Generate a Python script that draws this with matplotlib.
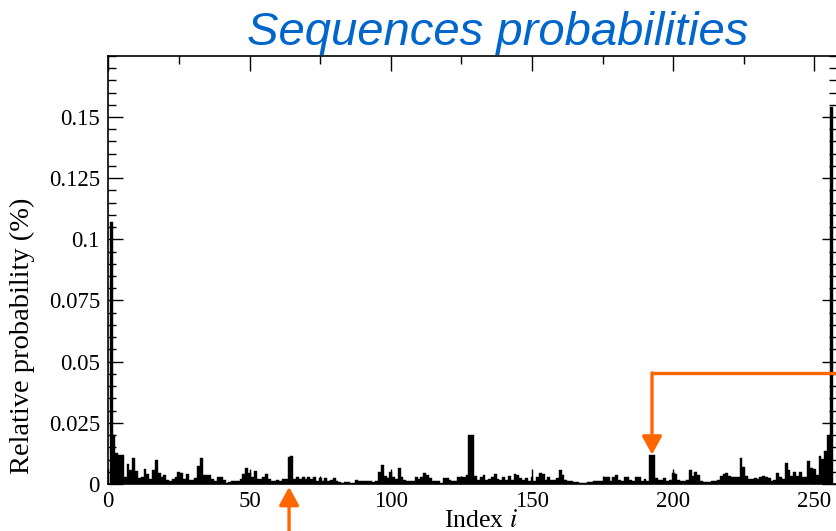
import numpy as np
import matplotlib
matplotlib.use("Agg")
import matplotlib.pyplot as plt
from matplotlib.ticker import MultipleLocator, FixedLocator

# Relative probability of each 8-bit sequence, in units of 1e-3 %
index = np.arange(1, 257)
prob_milli = [
    107, 20, 12.7, 11.7, 11.7, 3.0, 8.2, 5.9, 10.6, 5.2,
    2.5, 3.0, 6.1, 4.1, 2.2, 5.7, 9.8, 4.5, 3.0, 3.8,
    1.6, 1.4, 2.2, 3.0, 4.9, 4.5, 2.2, 4.1, 1.6, 1.6,
    2.5, 7.2, 10.6, 3.8, 3.8, 3.8, 2.2, 1.4, 2.7, 3.0,
    1.5, 0.5, 0.8, 1.1, 1.1, 1.4, 2.2, 4.1, 6.5, 4.5,
    3.0, 5.4, 2.2, 1.9, 3.0, 4.1, 1.9, 1.4, 1.1, 1.6,
    1.4, 1.9, 2.2, 10.9, 11.5, 2.2, 3.0, 2.2, 3.0, 2.2,
    3.0, 2.2, 2.7, 1.1, 2.5, 1.1, 2.5, 1.1, 1.6, 2.5,
    1.4, 0.8, 0.5, 0.8, 0.8, 0.5, 0.5, 1.6, 1.4, 1.1,
    1.4, 1.1, 1.4, 0.8, 1.1, 4.9, 7.6, 3.1, 2.5, 4.9,
    3.0, 2.2, 6.5, 3.0, 1.6, 1.4, 1.1, 1.1, 3.0, 2.2,
    2.7, 4.4, 3.5, 2.5, 1.4, 1.1, 1.1, 0.5, 2.5, 2.5,
    1.6, 1.4, 1.4, 3.0, 3.0, 3.0, 3.5, 20.0, 20.0, 3.1,
    1.6, 3.0, 3.8, 1.8, 2.2, 2.7, 4.1, 2.2, 1.6, 2.7,
    1.6, 3.1, 1.6, 4.1, 3.8, 2.5, 1.6, 2.5, 1.4, 3.0,
    1.4, 2.7, 4.6, 4.1, 1.6, 3.0, 1.6, 1.6, 2.5, 5.9,
    3.5, 1.6, 1.4, 1.1, 0.8, 0.7, 0.5, 0.5, 0.5, 0.7,
    0.8, 1.1, 1.1, 1.1, 1.4, 2.7, 3.0, 1.1, 3.0, 3.8,
    1.6, 1.4, 2.7, 3.0, 1.6, 1.4, 2.7, 3.0, 1.4, 2.2,
    1.4, 12.0, 12.0, 2.5, 1.8, 1.8, 2.5, 1.4, 1.6, 4.5,
    4.1, 1.6, 1.1, 1.4, 1.6, 5.9, 3.1, 4.9, 3.8, 1.4,
    0.7, 0.7, 0.7, 1.1, 1.4, 1.6, 3.1, 4.1, 4.4, 3.1,
    3.0, 3.0, 3.0, 10.6, 6.8, 3.1, 2.2, 1.9, 2.5, 1.9,
    3.0, 3.1, 3.0, 2.5, 1.4, 1.6, 4.5, 2.7, 2.2, 8.6,
    5.9, 3.1, 4.9, 3.1, 4.9, 3.0, 3.0, 9.5, 6.5, 6.3,
    3.8, 11.4, 10.4, 13.4, 20.2, 154,
]
prob = np.array(prob_milli) * 1e-3

y_ticks = [0, 0.025, 0.05, 0.075, 0.1, 0.125, 0.15]
y_tick_labels = ["0", "0.025", "0.05", "0.075", "0.1", "0.125", "0.15"]
x_ticks = [0, 50, 100, 150, 200, 250]

title_text = "Sequences probabilities"
x_label = "Index $\\mathit{i}$"
y_label = "Relative probability (%)"

ORANGE = "#FF6600"
BLUE = "#0066CC"
SERIF = "Liberation Serif"

plt.rcParams["mathtext.fontset"] = "stix"
plt.rcParams["font.family"] = SERIF

W, H, DPI = 837, 531, 100
fig = plt.figure(figsize=(W / DPI, H / DPI), dpi=DPI)
ax = fig.add_axes([108.3 / W, 1 - 484 / H, (W - 108.3) / W, (484 - 55.8) / H])

ax.bar(index, prob, width=1.0, align="center", color="black",
       edgecolor="black", linewidth=0.3)

ax.set_xlim(0, 258)
ax.set_ylim(0, 0.175)

ax.xaxis.set_major_locator(FixedLocator(x_ticks))
ax.xaxis.set_minor_locator(MultipleLocator(25))
ax.yaxis.set_major_locator(FixedLocator(y_ticks))
ax.set_yticklabels(y_tick_labels)
ax.yaxis.set_minor_locator(MultipleLocator(0.005))

ax.tick_params(which="both", direction="in", top=True, right=True,
               labelsize=16.5, colors="black", width=1.0)
ax.tick_params(which="major", length=11)
ax.tick_params(which="minor", length=5.5)
ax.tick_params(axis="x", pad=5)
ax.tick_params(axis="y", pad=6)
for sp in ax.spines.values():
    sp.set_linewidth(1.2)

fig.text(497.5 / W, 1 - 45 / H, title_text, ha="center", va="baseline",
         fontsize=34, color=BLUE, style="italic", family="Liberation Sans")
fig.text(22 / W, 1 - 336 / H, y_label, rotation=90, ha="center",
         va="center", fontsize=20.5)
fig.text(481 / W, 1 - 527 / H, x_label, ha="center", va="baseline",
         fontsize=18.5)

# Highlighted sequences
arrow_style = "-|>,head_length=0.55,head_width=0.3"
arrow_props = dict(arrowstyle=arrow_style, color=ORANGE, lw=2.4,
                   shrinkA=0, shrinkB=0, mutation_scale=20)
ax.annotate("", xy=(64, -0.0012), xycoords="data",
            xytext=(64, -0.022), textcoords="data",
            arrowprops=arrow_props, annotation_clip=False)
ax.plot([192.5, 270], [0.0454, 0.0454], color=ORANGE, lw=2.4,
        clip_on=False, solid_capstyle="butt")
ax.annotate("", xy=(192.5, prob[191]), xycoords="data",
            xytext=(192.5, 0.0454), textcoords="data",
            arrowprops=arrow_props, annotation_clip=False)

fig.savefig("out.png", dpi=DPI)
